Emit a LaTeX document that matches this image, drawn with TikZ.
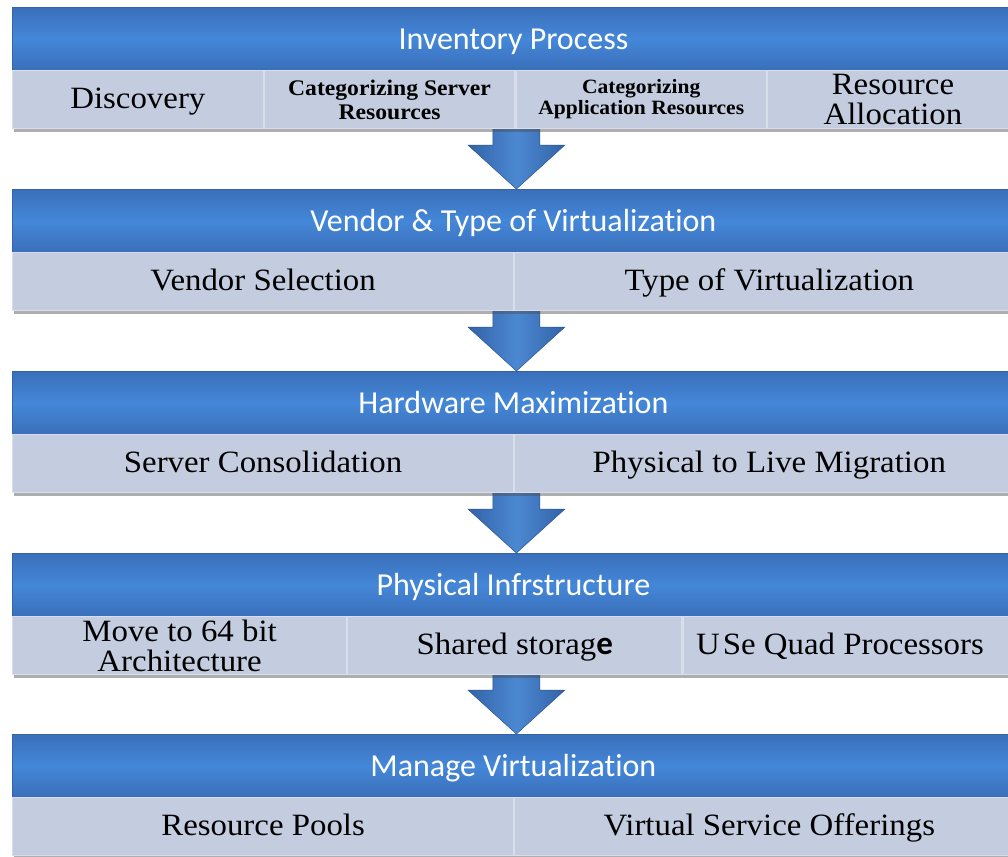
\documentclass[tikz,border=0pt]{standalone}
\usepackage{fontspec}
\setmainfont{Liberation Serif}[FakeStretch=1.06]
\newfontfamily\hdfont{Carlito}[Ligatures={NoCommon,NoContextual}]
\usetikzlibrary{calc,shadows}
\definecolor{hdblue}{HTML}{4487D8}
\definecolor{hddark}{HTML}{3A6FBA}
\definecolor{cellgray}{HTML}{C4CDE0}
\definecolor{cellline}{HTML}{D8DEEB}
\definecolor{arrowdark}{HTML}{3263A8}
\definecolor{arrowlight}{HTML}{4C88D2}
\begin{document}
\begin{tikzpicture}[x=1pt,y=-1pt,
  hdr/.style={anchor=north west, minimum width=1002pt, minimum height=63pt, inner sep=0pt,
    top color=hddark, bottom color=hddark, middle color=hdblue, draw=hddark!90!black, line width=0.8pt,
    text=white, font=\hdfont\fontsize{32}{32}\selectfont, text height=25pt, text depth=4pt},
  rowbg/.style={anchor=north west, minimum width=1002pt, minimum height=58pt, inner sep=0pt,
    fill=cellgray, drop shadow={shadow xshift=1.5pt, shadow yshift=-3.5pt, opacity=.45, fill=black!70}},
  cell/.style={anchor=north west, minimum height=58pt, inner sep=0pt, fill=cellgray,
    draw=cellline, line width=1.2pt, align=center, font=\fontsize{31}{30}\selectfont},
  oneline/.style={text height=24pt, text depth=6pt},
  smallbold/.style={font=\bfseries\fontsize{22.3}{24}\selectfont},
  smallerbold/.style={font=\bfseries\fontsize{20.3}{21}\selectfont},
  flowarrow/.style={left color=arrowdark, right color=arrowdark, middle color=arrowlight, draw=arrowdark!85!black, line width=0.5pt}
]
\clip (0,0) rectangle (1008,856);
\fill[white] (0,0) rectangle (1008,856);

% headers
\node[hdr] (h1) at (12,7) {Inventory Process};
\node[hdr] (h2) at (12,189) {Vendor \& Type of Virtualization};
\node[hdr] (h3) at (12,371) {Hardware Maximization};
\node[hdr] (h4) at (12,553) {Physical Infrstructure};
\node[hdr] (h5) at (12,734) {Manage Virtualization};

% arrows
\foreach \a/\b in {h1/h2,h2/h3,h3/h4,h4/h5}{
  \coordinate (tip) at ([xshift=3pt]\b.north);
  \path[flowarrow] ($(tip)+(-23.5,-65)$) -- ($(tip)+(23.5,-65)$) -- ($(tip)+(23.5,-44)$)
    -- ($(tip)+(48.5,-44)$) -- (tip) -- ($(tip)+(-48.5,-44)$) -- ($(tip)+(-23.5,-44)$) -- cycle;
}

% row backgrounds with shadow
\node[rowbg] (r1) at (12,70) {};
\node[rowbg] (r2) at (12,252) {};
\node[rowbg] (r3) at (12,434) {};
\node[rowbg] (r4) at (12,616) {};
\node[rowbg] (r5) at (12,797) {};

% row 1
\node[cell, oneline, minimum width=250.5pt] (c11) at (r1.north west) {Discovery};
\node[cell, minimum width=250.5pt, smallbold] (c12) at (c11.north east) {Categorizing Server\\Resources};
\node[cell, minimum width=250.5pt, smallerbold] (c13) at (c12.north east) {Categorizing\\Application Resources};
\node[cell, minimum width=250.5pt] (c14) at (c13.north east) {Resource\\Allocation};

% row 2
\node[cell, oneline, minimum width=501pt] (c21) at (r2.north west) {Vendor Selection};
\node[cell, oneline, minimum width=501pt] (c22) at (c21.north east) {\hspace*{8pt}Type of Virtualization};

% row 3
\node[cell, oneline, minimum width=501pt] (c31) at (r3.north west) {Server Consolidation};
\node[cell, oneline, minimum width=501pt] (c32) at (c31.north east) {\hspace*{8pt}Physical to Live Migration};

% row 4
\node[cell, minimum width=334pt] (c41) at (r4.north west) {Move to 64 bit\\Architecture};
\node[cell, oneline, minimum width=334pt] (c42) at (c41.north east) {Shared storag{\hdfont\bfseries\fontsize{33}{30}\selectfont e}};
\node[cell, oneline, minimum width=334pt] (c43) at (c42.north east) {U\kern3pt Se Quad Processors\hspace*{20pt}};

% row 5
\node[cell, oneline, minimum width=501pt] (c51) at (r5.north west) {Resource Pools};
\node[cell, oneline, minimum width=501pt] (c52) at (c51.north east) {\hspace*{8pt}Virtual Service Offerings};
\end{tikzpicture}
\end{document}
